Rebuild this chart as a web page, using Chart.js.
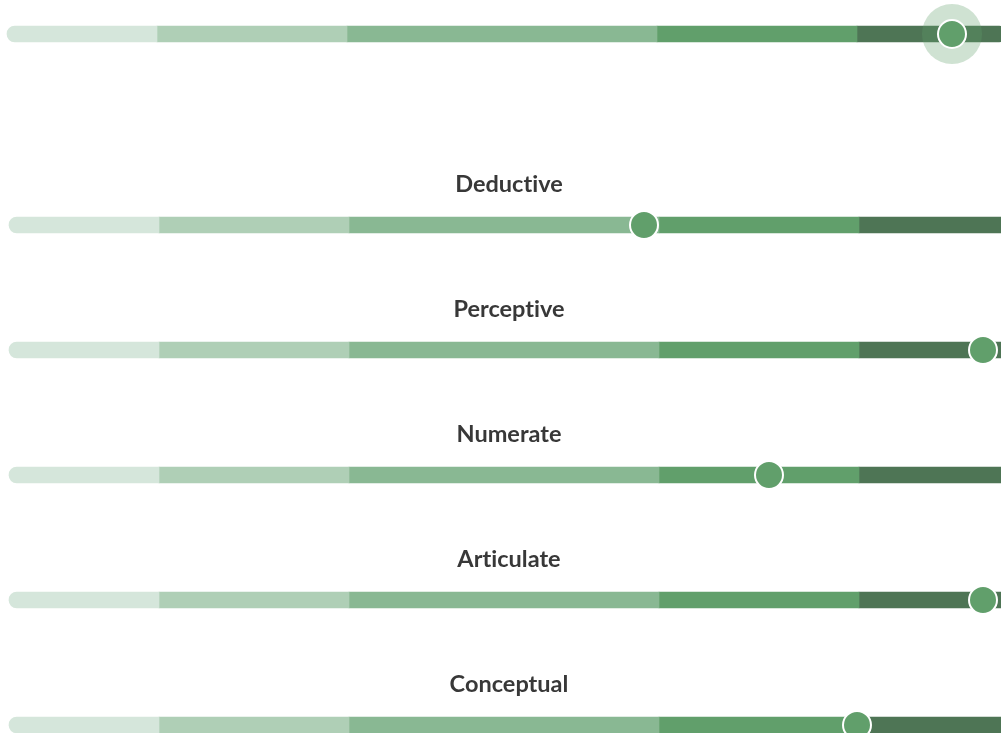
<!DOCTYPE html>
<html>
<head>
<meta charset="utf-8">
<script src="https://cdn.jsdelivr.net/npm/chart.js@4.4.1/dist/chart.umd.min.js"></script>
<style>
  html, body { margin: 0; padding: 0; background: #ffffff; overflow: hidden; width: 1001px; height: 733px; }
  #wrap { position: relative; width: 1001px; height: 733px; overflow: hidden; }
  canvas { position: absolute; left: 0; top: 0; }
</style>
</head>
<body>
<div id="wrap">
  <canvas id="top" width="1010" height="68"></canvas>
  <canvas id="rows" width="1012" height="800"></canvas>
</div>
<script>
// ---- data ----
const categories = ['Deductive', 'Perceptive', 'Numerate', 'Articulate', 'Conceptual'];
const scores = [63.5, 97.4, 76, 97.4, 84.8];
const overallLabel = ['Overall'];
const overallScore = [94.5];
const bandEdges = [0, 15, 34, 65, 85, 100];

// ---- styles ----
const bandColors = ['#d5e6db', '#afcfb6', '#89b893', '#619f6b', '#4e7555'];
const markerColor = '#619f6b';
const haloColor = 'rgba(97,159,107,0.3)';
const labelColor = '#383838';

function bandDatasets(labels) {
  const sets = [];
  for (let i = 0; i < bandEdges.length - 1; i++) {
    const first = i === 0, last = i === bandEdges.length - 2;
    sets.push({
      type: 'bar',
      data: labels.map(() => [bandEdges[i], bandEdges[i + 1]]),
      backgroundColor: bandColors[i],
      borderWidth: 0,
      borderSkipped: false,
      borderRadius: { topLeft: first ? 8 : 0, bottomLeft: first ? 8 : 0, topRight: last ? 8 : 0, bottomRight: last ? 8 : 0 },
      barThickness: 16,
      grouped: false,
      clip: false,
      order: 5
    });
  }
  return sets;
}

function markerDataset(labels, values, order) {
  return {
    type: 'scatter',
    data: labels.map((c, i) => ({ x: values[i], y: c })),
    backgroundColor: markerColor,
    borderColor: '#ffffff',
    borderWidth: 2,
    pointRadius: 14,
    pointHoverRadius: 14,
    clip: false,
    order: order
  };
}

const labelPlugin = {
  id: 'rowLabels',
  afterDraw(chart, args, opts) {
    if (!opts.show) return;
    const ctx = chart.ctx;
    const ys = chart.scales.y;
    const area = chart.chartArea;
    ctx.save();
    ctx.font = 'bold 23.5px Lato';
    try { ctx.letterSpacing = '0.01px'; } catch (e) {}
    ctx.fillStyle = labelColor;
    ctx.textAlign = 'center';
    ctx.textBaseline = 'middle';
    chart.data.labels.forEach((lab, i) => {
      ctx.fillText(lab, (area.left + area.right) / 2, ys.getPixelForValue(i) - 41);
    });
    ctx.restore();
  }
};

function baseOptions(padding, showLabels) {
  return {
    responsive: false,
    animation: false,
    indexAxis: 'y',
    layout: { padding: padding, autoPadding: false },
    plugins: { legend: { display: false }, tooltip: { enabled: false }, rowLabels: { show: showLabels } },
    scales: {
      x: { type: 'linear', min: 0, max: 100, display: false },
      y: { type: 'category', display: false, offset: true }
    }
  };
}

// Top (overall) gauge
new Chart(document.getElementById('top'), {
  data: {
    labels: overallLabel,
    datasets: [
      markerDataset(overallLabel, overallScore, 0),
      Object.assign(markerDataset(overallLabel, overallScore, 1), { backgroundColor: haloColor, borderWidth: 0, pointRadius: 30, pointHoverRadius: 30 }),
      ...bandDatasets(overallLabel)
    ]
  },
  options: baseOptions({ left: 7, right: 3, top: 0, bottom: 0 }, false),
  plugins: [labelPlugin]
});

// Rows
new Chart(document.getElementById('rows'), {
  data: {
    labels: categories,
    datasets: [
      markerDataset(categories, scores, 0),
      ...bandDatasets(categories)
    ]
  },
  options: baseOptions({ left: 9, right: 3, top: 162.5, bottom: 12.5 }, true),
  plugins: [labelPlugin]
});
</script>
</body>
</html>
